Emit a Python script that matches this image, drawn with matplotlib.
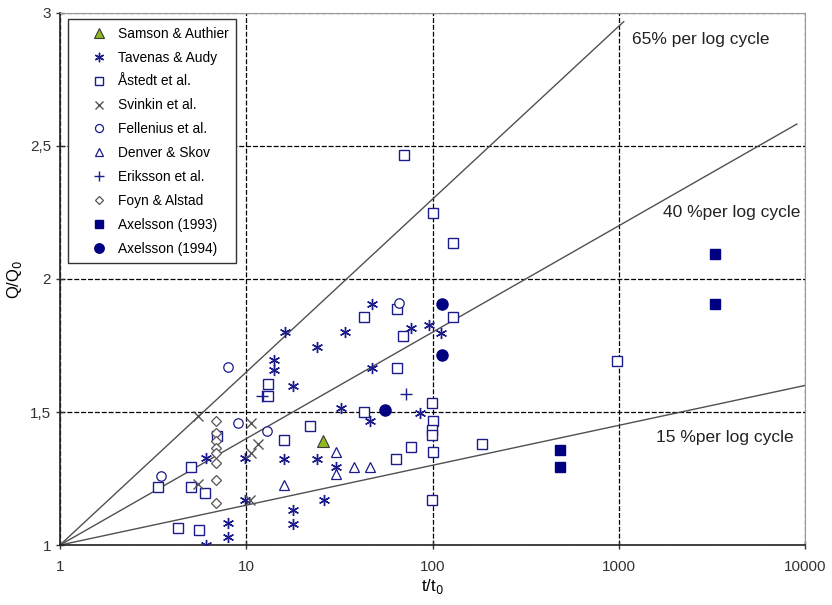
import numpy as np
import matplotlib
matplotlib.use('Agg')
import matplotlib.pyplot as plt
from matplotlib.ticker import FixedLocator, FixedFormatter, NullLocator

plt.rcParams['font.family'] = ['Liberation Sans', 'DejaVu Sans']

# data (t/t0, Q/Q0)
samson_t = [25.7]
samson_q = [1.39]

tavenas_t = [16.1, 33.9, 24.1, 14.0, 14.0, 17.9, 32.3, 9.9, 16.0, 24.1, 30.3, 26.2, 17.9,
             17.9, 9.9, 47.5, 76.7, 96.1, 110.7, 47.5, 46.2, 85.7, 6.05, 8.0, 8.0, 6.05]
tavenas_q = [1.80, 1.80, 1.745, 1.695, 1.658, 1.598, 1.516, 1.326, 1.323, 1.323, 1.294, 1.169, 1.132,
             1.078, 1.169, 1.906, 1.817, 1.827, 1.798, 1.667, 1.467, 1.495, 1.326, 1.082, 1.029, 1.0]

astedt_t = [3.37, 5.03, 5.03, 6.0, 4.28, 5.6, 6.93, 13.0, 13.0, 22.0, 16.0, 64.2, 42.9, 128,
            69.7, 64.2, 98.9, 42.9, 101, 99, 99, 101, 76.7, 63.5, 99, 975, 185, 70.3, 101, 129]
astedt_q = [1.219, 1.294, 1.219, 1.194, 1.065, 1.056, 1.41, 1.605, 1.56, 1.449, 1.395, 1.886, 1.858, 1.858,
            1.787, 1.667, 1.533, 1.499, 1.466, 1.432, 1.414, 1.348, 1.370, 1.323, 1.169, 1.693, 1.378, 2.466, 2.247, 2.134]

svinkin_t = [5.53, 5.53, 10.6, 11.6, 10.6, 10.5]
svinkin_q = [1.485, 1.229, 1.457, 1.38, 1.345, 1.169]

fellenius_t = [8.0, 9.0, 12.9, 3.49, 66.1]
fellenius_q = [1.668, 1.457, 1.429, 1.259, 1.909]

denver_t = [30.3, 30.3, 38.0, 46.2, 16.0]
denver_q = [1.348, 1.266, 1.292, 1.292, 1.226]

eriksson_t = [12.1, 71.8]
eriksson_q = [1.56, 1.568]

foyn_t = [6.85, 6.85, 6.85, 6.85, 6.85, 6.85, 6.85, 6.85]
foyn_q = [1.467, 1.42, 1.39, 1.365, 1.345, 1.31, 1.245, 1.16]

axel93_t = [484, 484, 3287, 3287]
axel93_q = [1.357, 1.294, 2.094, 1.906]

axel94_t = [112, 112, 55.6]
axel94_q = [1.906, 1.714, 1.508]

# reference lines: slope per log cycle, end of line (t/t0)
slopes = [0.65, 0.40, 0.15]
line_ends = [1060, 9000, 10000]
line_labels = ['65% per log cycle', '40 %per log cycle', '15 %per log cycle']
label_pos = [(1180, 2.90), (1730, 2.25), (1570, 1.405)]

navy = '#1b1b8a'

fig = plt.figure(figsize=(8.32, 6.05), dpi=100)
ax = fig.add_axes([0.072, 0.099, 0.896, 0.88])
ax.set_xscale('log')
ax.set_xlim(1, 10000)
ax.set_ylim(1, 3)

for s, te in zip(slopes, line_ends):
    tt = np.array([1.0, te])
    ax.plot(tt, 1 + s * np.log10(tt), color='#505050', lw=1.0, zorder=2)

for txt, (tx, ty) in zip(line_labels, label_pos):
    ax.text(tx, ty, txt, fontsize=12.5, color='#222222', ha='left', va='center')

ms = 6.8
ax.plot(samson_t, samson_q, ls='none', marker='^', ms=8, mfc='#8db81e', mec='#3a3a3a', mew=0.8,
        label='Samson & Authier', zorder=4)
ax.plot(tavenas_t, tavenas_q, ls='none', marker=(6, 2, 0), ms=8, color=navy, mew=1.0,
        label='Tavenas & Audy', zorder=3)
ax.plot(astedt_t, astedt_q, ls='none', marker='s', ms=ms, mfc='white', mec=navy, mew=1.0,
        label='Åstedt et al.', zorder=3)
ax.plot(svinkin_t, svinkin_q, ls='none', marker='x', ms=6.5, color='#555555', mew=1.0,
        label='Svinkin et al.', zorder=3)
ax.plot(fellenius_t, fellenius_q, ls='none', marker='o', ms=ms, mfc='white', mec=navy, mew=0.9,
        label='Fellenius et al.', zorder=3)
ax.plot(denver_t, denver_q, ls='none', marker='^', ms=7, mfc='white', mec=navy, mew=0.9,
        label='Denver & Skov', zorder=3)
ax.plot(eriksson_t, eriksson_q, ls='none', marker='+', ms=8, color=navy, mew=1.0,
        label='Eriksson et al.', zorder=3)
ax.plot(foyn_t, foyn_q, ls='none', marker='D', ms=5, mfc='white', mec='#555555', mew=0.9,
        label='Foyn & Alstad', zorder=3)
ax.plot(axel93_t, axel93_q, ls='none', marker='s', ms=7, color='#000080',
        label='Axelsson (1993)', zorder=3)
ax.plot(axel94_t, axel94_q, ls='none', marker='o', ms=8, color='#000080',
        label='Axelsson (1994)', zorder=3)

# axes and grid
xt = [1, 10, 100, 1000, 10000]
yt = [1, 1.5, 2, 2.5, 3]
ax.xaxis.set_major_locator(FixedLocator(xt))
ax.xaxis.set_major_formatter(FixedFormatter(['1', '10', '100', '1000', '10000']))
ax.xaxis.set_minor_locator(NullLocator())
ax.yaxis.set_major_locator(FixedLocator(yt))
ax.yaxis.set_major_formatter(FixedFormatter(['1', '1,5', '2', '2,5', '3']))
ax.grid(True, color='black', lw=0.9, ls=(0, (4, 1.5)), zorder=1)
ax.tick_params(axis='both', labelsize=11, colors='#333333', direction='inout', length=6, width=1)
ax.tick_params(axis='x', pad=8)
for side in ['left', 'bottom']:
    ax.spines[side].set_color('#222222')
    ax.spines[side].set_linewidth(1.2)
for side in ['top', 'right']:
    ax.spines[side].set_color('#999999')

ax.set_xlabel('t/t$_0$', fontsize=12, labelpad=2)
ax.set_ylabel('Q/Q$_0$', fontsize=12, labelpad=4)

leg = ax.legend(loc='upper left', bbox_to_anchor=(0.011, 0.988), borderaxespad=0, fontsize=9.9,
                frameon=True, fancybox=False, edgecolor='#333333', framealpha=1,
                handlelength=3.4, handletextpad=-0.3, labelspacing=0.72, borderpad=0.55,
                numpoints=1, markerscale=0.85)
leg.get_frame().set_linewidth(1.0)

fig.savefig('out.png', dpi=100)
